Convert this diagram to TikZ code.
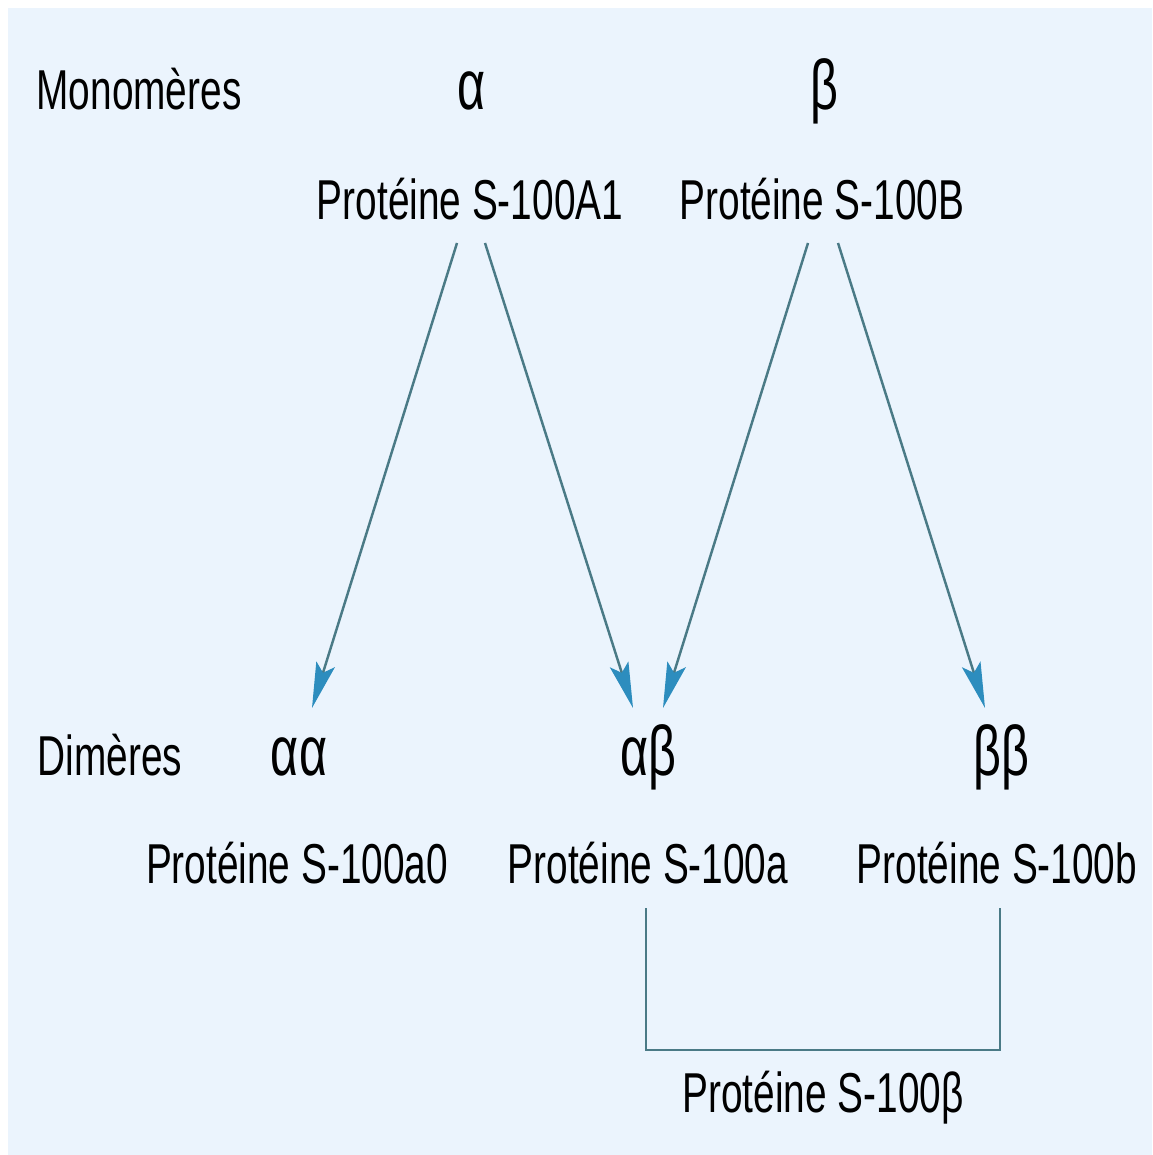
\documentclass[tikz,border=0pt]{standalone}
\usepackage{fontspec}
\setmainfont{Liberation Sans}[FakeStretch=0.69]
\usetikzlibrary{arrows.meta}
\definecolor{bgblue}{HTML}{EBF4FD}
\definecolor{linegray}{HTML}{4A7A86}
\definecolor{tipblue}{HTML}{2D8DBE}
\begin{document}
\begin{tikzpicture}[
    x=1cm, y=-1cm,
    label/.style={anchor=base, inner sep=0pt, font=\fontsize{16}{19}\selectfont},
    greek/.style={anchor=base, inner sep=0pt, font=\fontsize{20}{24}\selectfont},
    arr/.style={-{Stealth[length=13pt, width=5.5pt, inset=2.5pt, color=tipblue]}, draw=linegray, line width=0.7pt},
    bracket/.style={draw=linegray, line width=0.8pt}
]

% fond
\fill[white] (0,0) rectangle (11.52,11.55);
\fill[bgblue] (0.08,0.08) rectangle (11.52,11.55);

% monomeres
\node[label] (mono) at (1.39,1.10) {Monomères};
\node[greek] (alpha) at (4.72,1.10) {α};
\node[greek] (beta)  at (8.24,1.10) {β};
\node[label] (pa1) at (4.70,2.20) {Protéine S-100A1};
\node[label] (pb)  at (8.22,2.20) {Protéine S-100B};

% dimeres
\node[label] (dim) at (1.10,7.75) {Dimères};
\node[greek] (aa) at (2.99,7.75) {αα};
\node[greek] (ab) at (6.48,7.75) {αβ};
\node[greek] (bb) at (10.01,7.75) {ββ};
\node[label] (p0)  at (2.97,8.83) {Protéine S-100a0};
\node[label] (pa)  at (6.48,8.83) {Protéine S-100a};
\node[label] (pbl) at (9.97,8.83) {Protéine S-100b};
\node[label] (pbeta) at (8.23,11.12) {Protéine S-100β};

% fleches
\draw[arr] ([xshift=-0.13cm,yshift=-0.23cm]pa1.base) -- ([xshift=0.13cm,yshift=0.67cm]aa.base);
\draw[arr] ([xshift=0.15cm,yshift=-0.23cm]pa1.base) -- ([xshift=-0.15cm,yshift=0.67cm]ab.base);
\draw[arr] ([xshift=-0.14cm,yshift=-0.23cm]pb.base) -- ([xshift=0.15cm,yshift=0.67cm]ab.base);
\draw[arr] ([xshift=0.16cm,yshift=-0.23cm]pb.base) -- ([xshift=-0.16cm,yshift=0.67cm]bb.base);

% accolade S-100a / S-100b
\draw[bracket] ([xshift=-0.02cm,yshift=-0.25cm]pa.base) -- ++(0,1.42) -| ([xshift=0.03cm,yshift=-0.25cm]pbl.base);

\end{tikzpicture}
\end{document}
